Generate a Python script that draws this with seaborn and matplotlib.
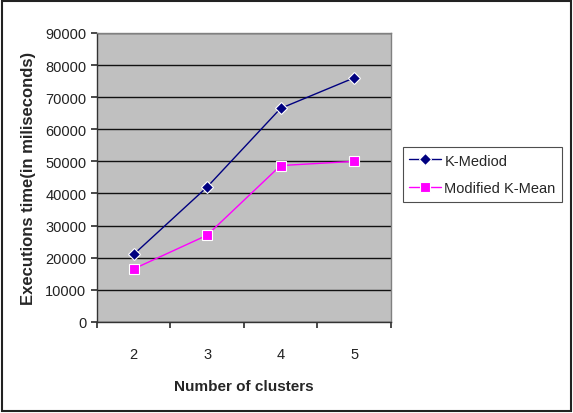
import pandas as pd
import matplotlib
matplotlib.use("Agg")
import matplotlib.pyplot as plt
import seaborn as sns
from matplotlib.patches import Rectangle

# --- chart data ---
clusters = ["2", "3", "4", "5"]
k_mediod = [21000, 42000, 66500, 76000]
modified_k_mean = [16500, 27000, 48700, 50000]
y_ticks = [0, 10000, 20000, 30000, 40000, 50000, 60000, 70000, 80000, 90000]

series_names = ["K-Mediod", "Modified K-Mean"]
series_colors = {"K-Mediod": "#000080", "Modified K-Mean": "#FF00FF"}
series_markers = {"K-Mediod": "D", "Modified K-Mean": "s"}

# long-form table, categories centred between category-axis ticks
rows = []
for name, vals in zip(series_names, [k_mediod, modified_k_mean]):
    for i, v in enumerate(vals):
        rows.append({"pos": i + 0.5, "clusters": clusters[i], "time": v, "series": name})
df = pd.DataFrame(rows)

sns.set_theme(style="white")
plt.rcParams["font.family"] = ["Liberation Sans", "DejaVu Sans"]

fig = plt.figure(figsize=(5.73, 4.14), dpi=100)
ax = fig.add_axes([0.169, 0.22, 0.513, 0.698])
ax.set_facecolor("#C0C0C0")

sns.lineplot(
    data=df, x="pos", y="time", hue="series", style="series",
    palette=series_colors, markers=series_markers, dashes=False,
    linewidth=1.0, markersize=6.5, markeredgewidth=0.8, ax=ax,
)

ax.set_xlim(0, len(clusters))
ax.set_ylim(0, 90000)
ax.set_yticks(y_ticks)
ax.set_yticklabels([str(t) for t in y_ticks], fontsize=10.5, color="#222222")
ax.set_xticks(range(len(clusters) + 1))
ax.set_xticklabels([])
ax.set_xticks([i + 0.5 for i in range(len(clusters))], minor=True)
ax.set_xticklabels(clusters, minor=True, fontsize=10.5, color="#222222")
ax.tick_params(axis="x", which="minor", length=0, pad=18)
ax.tick_params(axis="x", which="major", length=4, direction="out", color="#333333", bottom=True)
ax.tick_params(axis="y", length=4, direction="out", color="#333333", left=True)

ax.yaxis.grid(True, color="#111111", linewidth=1.0)
ax.set_axisbelow(True)
for s in ["left", "bottom"]:
    ax.spines[s].set_color("#333333")
    ax.spines[s].set_linewidth(1.0)
for s in ["top", "right"]:
    ax.spines[s].set_color("#808080")
    ax.spines[s].set_linewidth(1.0)

ax.set_xlabel("Number of clusters", fontsize=11, fontweight="bold", labelpad=13)
ax.set_ylabel("Executions time(in miliseconds)", fontsize=12, fontweight="bold", labelpad=7)

leg = ax.legend(
    loc="upper left", bbox_to_anchor=(0.703, 0.6425), bbox_transform=fig.transFigure,
    fontsize=10.5, frameon=True, fancybox=False, borderpad=0.45, handlelength=2.2,
    handletextpad=0.2, labelspacing=0.95, borderaxespad=0,
)
leg.get_frame().set_edgecolor("#222222")
leg.get_frame().set_linewidth(0.8)

# outer chart border
fig.add_artist(Rectangle((0.004, 0.004), 0.992, 0.99, transform=fig.transFigure,
                         fill=False, edgecolor="#222222", linewidth=1.5))

fig.savefig("out.png", dpi=100)
